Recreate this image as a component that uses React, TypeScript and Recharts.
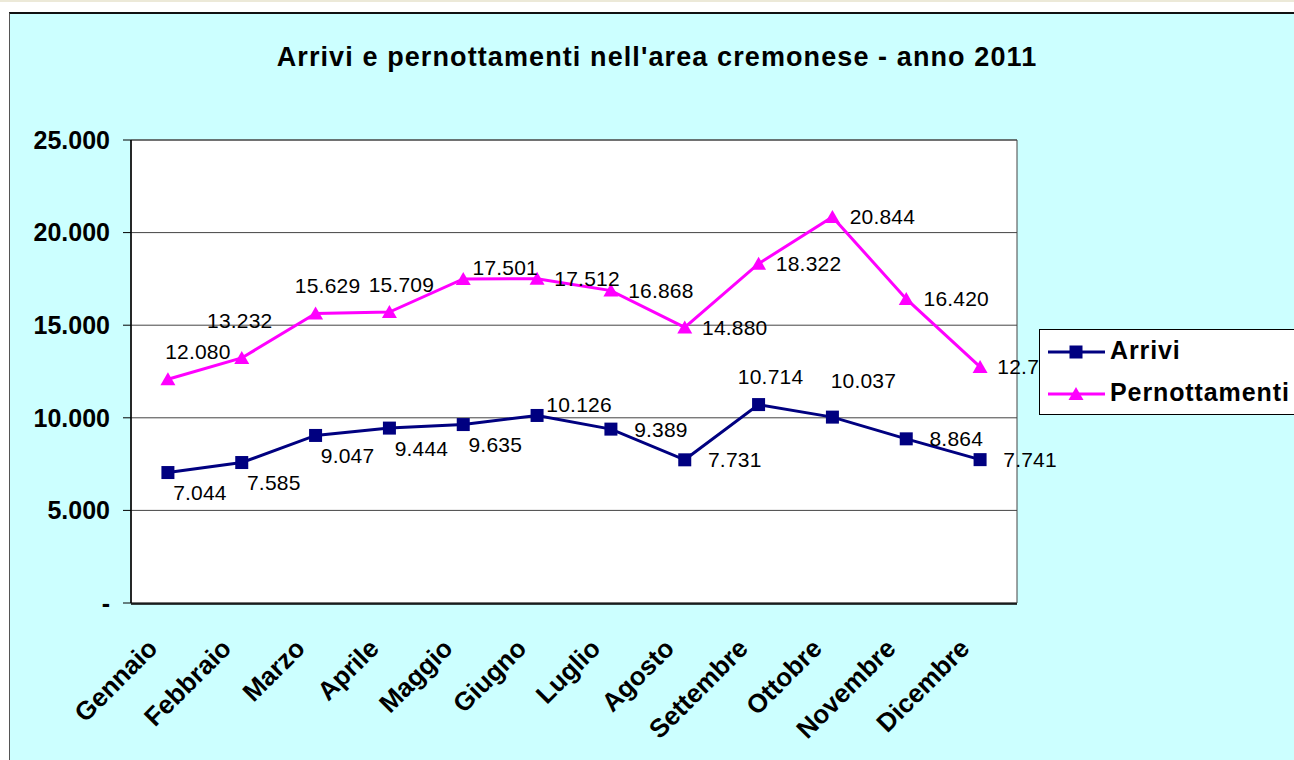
import React from 'react';
import { LineChart, Line, XAxis, YAxis, CartesianGrid, Legend, ReferenceArea } from 'recharts';

const months = ['Gennaio', 'Febbraio', 'Marzo', 'Aprile', 'Maggio', 'Giugno', 'Luglio', 'Agosto', 'Settembre', 'Ottobre', 'Novembre', 'Dicembre'];
const arrivi = [7044, 7585, 9047, 9444, 9635, 10126, 9389, 7731, 10714, 10037, 8864, 7741];
const pernottamenti = [12080, 13232, 15629, 15709, 17501, 17512, 16868, 14880, 18322, 20844, 16420, 12745];
const yTicks = [0, 5000, 10000, 15000, 20000, 25000];
const monthBoundaries = [0, 1, 2, 3, 4, 5, 6, 7, 8, 9, 10, 11, 12];
const arriviLabelPos = ['below', 'below', 'below', 'below', 'below', 'upRight', 'right', 'right', 'above', 'aboveFar', 'right', 'right'];
const pernLabelPos = ['aboveNear', 'aboveLeft', 'above', 'above', 'upRight', 'right', 'right', 'right', 'right', 'right', 'right', 'right'];

const title = "Arrivi e pernottamenti nell'area cremonese - anno 2011";

const data = months.map((m, i) => ({ month: m, arrivi: arrivi[i], pernottamenti: pernottamenti[i] }));

const FONT = '"Liberation Sans", Arial, sans-serif';
const NAVY = '#000080';
const MAGENTA = '#FF00FF';

const OFFSETS: Record<string, [number, number]> = {
  right: [50, 0],
  below: [32, 20],
  above: [12, -28],
  aboveNear: [30, -28],
  aboveLeft: [-2, -37],
  aboveFar: [31, -37],
  upRight: [42, -11],
};

const fmt = (n: number) => (n === 0 ? '-' : String(n).replace(/\B(?=(\d{3})+(?!\d))/g, '.'));

const makeLabel = (positions: string[]) => (props: any) => {
  const x = props.x ?? props.viewBox?.x;
  const y = props.y ?? props.viewBox?.y;
  const idx = props.index;
  const [dx, dy] = OFFSETS[positions[idx]] || OFFSETS.right;
  return (
    <text key={`lab-${idx}`} x={x + dx} y={y + dy + 7.5} textAnchor="middle" fontSize={21} fill="#000" fontFamily={FONT} letterSpacing={0.2}>
      {fmt(props.value)}
    </text>
  );
};

const SquareDot = (p: any) => (
  <rect key={`sq-${p.index}`} x={p.cx - 6.5} y={p.cy - 6.5} width={13} height={13} fill={NAVY} />
);
const TriDot = (p: any) => (
  <polygon key={`tr-${p.index}`} points={`${p.cx},${p.cy - 7} ${p.cx - 7.5},${p.cy + 6} ${p.cx + 7.5},${p.cy + 6}`} fill={MAGENTA} />
);

const MonthTick = (props: any) => {
  const { x, y, payload } = props;
  return (
    <text
      transform={`translate(${x - 9},${y + 47}) rotate(-45)`}
      textAnchor="end"
      fontSize={26}
      fontWeight="bold"
      fill="#000"
      fontFamily={FONT}
    >
      {payload.value}
    </text>
  );
};

const LegendContent = () => (
  <div style={{ width: 290, height: 86, border: '1px solid #000', background: '#fff', boxSizing: 'border-box' }}>
    <svg width={288} height={84} style={{ display: 'block' }}>
      <line x1={8} x2={65} y1={22} y2={22} stroke={NAVY} strokeWidth={3} />
      <rect x={36 - 6.5} y={22 - 6.5} width={13} height={13} fill={NAVY} />
      <text x={70} y={29} fontSize={25} fontWeight="bold" fontFamily={FONT} fill="#000" letterSpacing={0.9}>Arrivi</text>
      <line x1={8} x2={65} y1={64} y2={64} stroke={MAGENTA} strokeWidth={3} />
      <polygon points={`36,57 28.5,70 43.5,70`} fill={MAGENTA} />
      <text x={70} y={71} fontSize={25} fontWeight="bold" fontFamily={FONT} fill="#000" letterSpacing={0.9}>Pernottamenti</text>
    </svg>
  </div>
);

export default function App() {
  return (
    <div style={{ position: 'fixed', left: 0, top: 0, width: 1294, height: 760, overflow: 'hidden', background: '#fff', fontFamily: FONT }}>
      <div style={{ position: 'absolute', left: 0, top: 0, width: 1294, height: 2, background: '#ECE9D8' }} />
      <div style={{ position: 'absolute', left: 9, top: 12, width: 1320, height: 800, background: '#CCFFFF', borderTop: '2px solid #111', borderLeft: '1px solid #555' }} />
      <svg width={1294} height={100} style={{ position: 'absolute', left: 0, top: 0 }}>
        <text x={657} y={66} textAnchor="middle" fontSize={27} fontWeight="bold" fontFamily={FONT} fill="#000" letterSpacing={1.1}>
          {title}
        </text>
      </svg>
      <div style={{ position: 'absolute', left: 0, top: 0 }}>
        <LineChart width={1294} height={760} data={data} margin={{ top: 140, right: 277, bottom: 155, left: 0 }}>
          <CartesianGrid horizontal vertical={false} stroke="#444" fill="#fff" fillOpacity={1} />
          <ReferenceArea y1={0} y2={25000} fill="none" stroke="#444" strokeWidth={1} ifOverflow="visible" />
          <XAxis
            xAxisId="bounds"
            type="number"
            domain={[0, 12]}
            allowDataOverflow
            ticks={monthBoundaries}
            interval={0}
            tick={false}
            tickSize={7}
            height={1}
            axisLine={{ stroke: '#000', strokeWidth: 1.5 }}
            tickLine={{ stroke: '#000' }}
          />
          <XAxis
            dataKey="month"
            scale="band"
            interval={0}
            height={1}
            axisLine={false}
            tickLine={false}
            tickSize={0}
            tickMargin={0}
            tick={<MonthTick />}
          />
          <YAxis
            domain={[0, 25000]}
            ticks={yTicks}
            interval={0}
            width={131}
            tickSize={8}
            tickMargin={13}
            tickFormatter={fmt}
            axisLine={{ stroke: '#000', strokeWidth: 1.5 }}
            tickLine={{ stroke: '#000' }}
            tick={{ fontSize: 25, fontWeight: 'bold', fill: '#000', fontFamily: FONT }}
          />
          <Legend
            layout="vertical"
            align="center"
            verticalAlign="middle"
            content={<LegendContent />}
            wrapperStyle={{ left: 1039, top: 329, width: 290, height: 86 }}
          />
          <Line
            dataKey="arrivi"
            name="Arrivi"
            stroke={NAVY}
            strokeWidth={3}
            dot={SquareDot}
            activeDot={false}
            label={makeLabel(arriviLabelPos)}
            isAnimationActive={false}
          />
          <Line
            dataKey="pernottamenti"
            name="Pernottamenti"
            stroke={MAGENTA}
            strokeWidth={3}
            dot={TriDot}
            activeDot={false}
            label={makeLabel(pernLabelPos)}
            isAnimationActive={false}
          />
        </LineChart>
      </div>
    </div>
  );
}
